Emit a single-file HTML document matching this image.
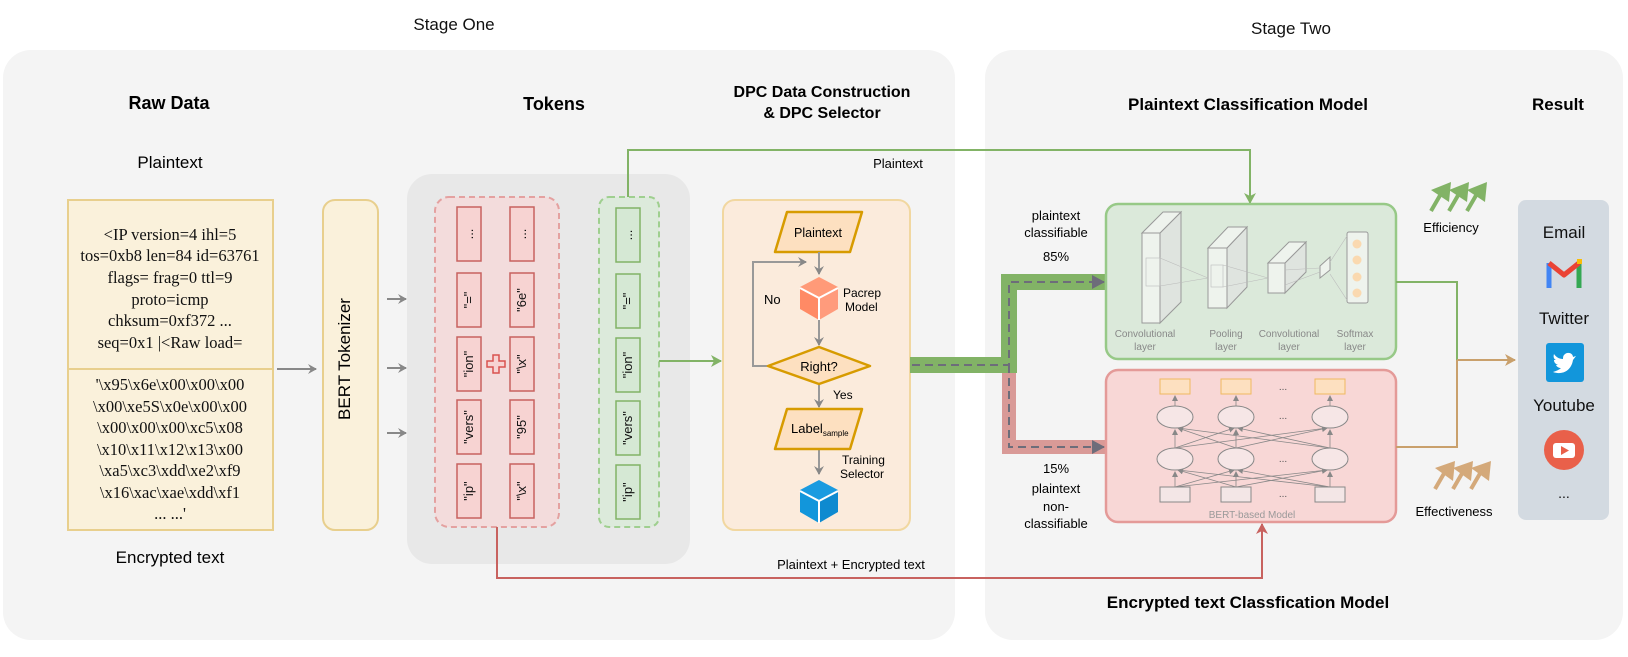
<!DOCTYPE html>
<html><head><meta charset="utf-8"><style>
html,body{margin:0;padding:0;background:#fff;}
svg{display:block;font-family:"Liberation Sans",sans-serif;}
</style></head><body>
<svg width="1628" height="657" viewBox="0 0 1628 657" xmlns="http://www.w3.org/2000/svg">
<defs>
<marker id="ag" markerWidth="10" markerHeight="10" refX="8" refY="5" orient="auto" markerUnits="userSpaceOnUse"><path d="M0,0 L9,5 L0,10 L3,5 z" fill="#888"/></marker>
<marker id="agr" markerWidth="12" markerHeight="12" refX="10" refY="6" orient="auto" markerUnits="userSpaceOnUse"><path d="M0,0 L11,6 L0,12 L3,6 z" fill="#82b366"/></marker>
<marker id="ard" markerWidth="12" markerHeight="12" refX="10" refY="6" orient="auto" markerUnits="userSpaceOnUse"><path d="M0,0 L11,6 L0,12 L3,6 z" fill="#c8625f"/></marker>
<marker id="abr" markerWidth="12" markerHeight="12" refX="10" refY="6" orient="auto" markerUnits="userSpaceOnUse"><path d="M0,0 L11,6 L0,12 L3,6 z" fill="#c9a06c"/></marker>
<marker id="adk" markerWidth="14" markerHeight="14" refX="12" refY="7" orient="auto" markerUnits="userSpaceOnUse"><path d="M0,0 L13,7 L0,14 z" fill="#6d6d7a"/></marker>
<marker id="asm" markerWidth="6" markerHeight="6" refX="5" refY="3" orient="auto" markerUnits="userSpaceOnUse"><path d="M0,0 L6,3 L0,6 z" fill="#888"/></marker>
</defs>

<!-- stage panels -->
<text x="454" y="30" font-size="17" text-anchor="middle" fill="#111">Stage One</text>
<text x="1291" y="34" font-size="17" text-anchor="middle" fill="#111">Stage Two</text>
<rect x="3" y="50" width="952" height="590" rx="28" fill="#f4f4f4"/>
<rect x="985" y="50" width="638" height="590" rx="28" fill="#f4f4f4"/>

<!-- Raw data -->
<text x="169" y="109" font-size="18" font-weight="bold" text-anchor="middle">Raw Data</text>
<text x="170" y="168" font-size="17" text-anchor="middle">Plaintext</text>
<rect x="68" y="200" width="205" height="330" fill="#faf1db" stroke="#e8cf8d" stroke-width="2"/>
<line x1="68" y1="369" x2="273" y2="369" stroke="#e8cf8d" stroke-width="2"/>
<g font-family="Liberation Serif, serif" font-size="16.5" text-anchor="middle" fill="#111">
<text x="170" y="240">&lt;IP  version=4 ihl=5</text>
<text x="170" y="261">tos=0xb8 len=84 id=63761</text>
<text x="170" y="283">flags= frag=0 ttl=9</text>
<text x="170" y="305">proto=icmp</text>
<text x="170" y="326">chksum=0xf372 ...</text>
<text x="170" y="348">seq=0x1 |&lt;Raw  load=</text>
<text x="170" y="390">'\x95\x6e\x00\x00\x00</text>
<text x="170" y="412">\x00\xe5S\x0e\x00\x00</text>
<text x="170" y="433">\x00\x00\x00\xc5\x08</text>
<text x="170" y="455">\x10\x11\x12\x13\x00</text>
<text x="170" y="476">\xa5\xc3\xdd\xe2\xf9</text>
<text x="170" y="498">\x16\xac\xae\xdd\xf1</text>
<text x="170" y="519">... ...'</text>
</g>
<text x="170" y="563" font-size="17" text-anchor="middle">Encrypted text</text>
<line x1="277" y1="369" x2="316" y2="369" stroke="#888" stroke-width="2" marker-end="url(#ag)"/>

<!-- BERT tokenizer -->
<rect x="323" y="200" width="55" height="330" rx="12" fill="#faf1db" stroke="#e8cf8d" stroke-width="2"/>
<text x="356" y="365" font-size="17" text-anchor="middle" transform="rotate(-90 350 365)">BERT Tokenizer</text>
<g stroke="#888" stroke-width="2">
<line x1="387" y1="299" x2="406" y2="299" marker-end="url(#ag)"/>
<line x1="387" y1="368" x2="406" y2="368" marker-end="url(#ag)"/>
<line x1="387" y1="433" x2="406" y2="433" marker-end="url(#ag)"/>
</g>

<!-- tokens -->
<text x="554" y="110" font-size="18" font-weight="bold" text-anchor="middle">Tokens</text>
<rect x="407" y="174" width="283" height="390" rx="25" fill="#e8e8e8"/>
<rect x="435" y="197" width="124" height="330" rx="14" fill="#f3dcdc" stroke="#e4a1a0" stroke-width="2" stroke-dasharray="6,4"/>
<rect x="599" y="197" width="60" height="330" rx="10" fill="#dceadb" stroke="#9fcf8f" stroke-width="2" stroke-dasharray="6,4"/>
<g fill="#f7d3d2" stroke="#c8625f" stroke-width="1.5">
<rect x="457" y="207" width="24" height="54"/><rect x="510" y="207" width="24" height="54"/>
<rect x="457" y="273" width="24" height="54"/><rect x="510" y="273" width="24" height="54"/>
<rect x="457" y="337" width="24" height="54"/><rect x="510" y="337" width="24" height="54"/>
<rect x="457" y="400" width="24" height="54"/><rect x="510" y="400" width="24" height="54"/>
<rect x="457" y="464" width="24" height="54"/><rect x="510" y="464" width="24" height="54"/>
</g>
<g fill="#d5e8d4" stroke="#82b366" stroke-width="1.5">
<rect x="616" y="208" width="24" height="54"/>
<rect x="616" y="274" width="24" height="54"/>
<rect x="616" y="338" width="24" height="54"/>
<rect x="616" y="401" width="24" height="54"/>
<rect x="616" y="465" width="24" height="54"/>
</g>
<g font-size="13" text-anchor="middle" fill="#111">
<text x="469" y="238" transform="rotate(-90 469 234)">...</text>
<text x="522" y="238" transform="rotate(-90 522 234)">...</text>
<text x="628" y="239" transform="rotate(-90 628 235)">...</text>
<text x="469" y="304" transform="rotate(-90 469 300)">"="</text>
<text x="522" y="304" transform="rotate(-90 522 300)">"6e"</text>
<text x="628" y="305" transform="rotate(-90 628 301)">"="</text>
<text x="469" y="368" transform="rotate(-90 469 364)">"ion"</text>
<text x="522" y="368" transform="rotate(-90 522 364)">"\x"</text>
<text x="628" y="369" transform="rotate(-90 628 365)">"ion"</text>
<text x="469" y="431" transform="rotate(-90 469 427)">"vers"</text>
<text x="522" y="431" transform="rotate(-90 522 427)">"95"</text>
<text x="628" y="432" transform="rotate(-90 628 428)">"vers"</text>
<text x="469" y="495" transform="rotate(-90 469 491)">"ip"</text>
<text x="522" y="495" transform="rotate(-90 522 491)">"\x"</text>
<text x="628" y="496" transform="rotate(-90 628 492)">"ip"</text>
</g>
<path d="M493,355 h6 v6 h6 v6 h-6 v6 h-6 v-6 h-6 v-6 h6 z" fill="#f7d3d2" stroke="#d9534f" stroke-width="1.5"/>

<!-- connectors from tokens -->
<polyline points="628,197 628,150 1250,150 1250,203" fill="none" stroke="#82b366" stroke-width="2" marker-end="url(#agr)"/>
<text x="898" y="168" font-size="13" text-anchor="middle">Plaintext</text>
<line x1="659" y1="361" x2="721" y2="361" stroke="#82b366" stroke-width="2" marker-end="url(#agr)"/>
<polyline points="497,527 497,578 1262,578 1262,524" fill="none" stroke="#c8625f" stroke-width="2" marker-end="url(#ard)"/>
<text x="851" y="569" font-size="13" text-anchor="middle">Plaintext + Encrypted text</text>

<!-- DPC -->
<text x="822" y="97" font-size="16" font-weight="bold" text-anchor="middle">DPC Data Construction</text>
<text x="822" y="118" font-size="16" font-weight="bold" text-anchor="middle">&amp; DPC Selector</text>
<rect x="723" y="200" width="187" height="330" rx="12" fill="#fbebdc" stroke="#f1d7a0" stroke-width="2"/>
<polygon points="787,212 862,212 850,252 775,252" fill="#fde0c0" stroke="#d79b00" stroke-width="2.5" stroke-linejoin="round"/>
<text x="818" y="237" font-size="12.5" text-anchor="middle">Plaintext</text>
<g stroke="#999" stroke-width="2" fill="none">
<line x1="819" y1="252" x2="819" y2="274" marker-end="url(#ag)"/>
<line x1="819" y1="320" x2="819" y2="345" marker-end="url(#ag)"/>
<line x1="819" y1="384" x2="819" y2="407" marker-end="url(#ag)"/>
<line x1="819" y1="450" x2="819" y2="474" marker-end="url(#ag)"/>
<polyline points="768,366 753,366 753,262 806,262" marker-end="url(#ag)"/>
</g>
<!-- orange cube -->
<g>
<polygon points="819,277 838,287 819,297 800,287" fill="#ff9a78"/>
<polygon points="800,287 819,297 819,320 800,309" fill="#ff8a65"/>
<polygon points="838,287 819,297 819,320 838,309" fill="#ff9b7c"/>
<polyline points="800,288 819,298 838,288" fill="none" stroke="#fff" stroke-width="2"/>
<line x1="819" y1="298" x2="819" y2="320" stroke="#fff" stroke-width="2"/>
</g>
<text x="843" y="297" font-size="12">Pacrep</text>
<text x="845" y="311" font-size="12">Model</text>
<text x="764" y="304" font-size="13">No</text>
<polygon points="819,347 870,366 819,384 768,366" fill="#fde0c0" stroke="#d79b00" stroke-width="2.5" stroke-linejoin="round"/>
<text x="819" y="371" font-size="13" text-anchor="middle">Right?</text>
<text x="833" y="399" font-size="12">Yes</text>
<polygon points="787,409 862,409 850,449 775,449" fill="#fde0c0" stroke="#d79b00" stroke-width="2.5" stroke-linejoin="round"/>
<text x="791" y="433" font-size="13">Label<tspan font-size="8" dy="3">sample</tspan></text>
<text x="842" y="464" font-size="12">Training</text>
<text x="840" y="478" font-size="12">Selector</text>
<!-- blue cube -->
<g>
<polygon points="819,480 838,490 819,500 800,490" fill="#1a9be0"/>
<polygon points="800,490 819,500 819,523 800,512" fill="#1296db"/>
<polygon points="838,490 819,500 819,523 838,512" fill="#0e8ad0"/>
<polyline points="800,491 819,501 838,491" fill="none" stroke="#fff" stroke-width="2"/>
<line x1="819" y1="501" x2="819" y2="523" stroke="#fff" stroke-width="2"/>
</g>

<!-- thick paths -->
<polyline points="910,365 1009,365 1009,447 1106,447" fill="none" stroke="#d99a97" stroke-width="14"/>
<polyline points="910,365 1009,365 1009,282 1106,282" fill="none" stroke="#82b366" stroke-width="16"/>
<polyline points="912,365 1009,365 1009,282 1104,282" fill="none" stroke="#6d6d7a" stroke-width="2" stroke-dasharray="8,5" marker-end="url(#adk)"/>
<polyline points="1009,365 1009,447 1104,447" fill="none" stroke="#6d6d7a" stroke-width="2" stroke-dasharray="8,5" marker-end="url(#adk)"/>
<g font-size="13" text-anchor="middle">
<text x="1056" y="220">plaintext</text>
<text x="1056" y="237">classifiable</text>
<text x="1056" y="261">85%</text>
<text x="1056" y="473">15%</text>
<text x="1056" y="493">plaintext</text>
<text x="1056" y="511">non-</text>
<text x="1056" y="528">classifiable</text>
</g>

<!-- Stage two titles -->
<text x="1248" y="110" font-size="17" font-weight="bold" text-anchor="middle">Plaintext Classification Model</text>
<text x="1558" y="110" font-size="17" font-weight="bold" text-anchor="middle">Result</text>
<text x="1248" y="608" font-size="17" font-weight="bold" text-anchor="middle">Encrypted text Classfication Model</text>

<!-- CNN box -->
<rect x="1106" y="204" width="290" height="155" rx="12" fill="#dbe9da" stroke="#97c987" stroke-width="2.5"/>
<g fill="#eef3ed" stroke="#999" stroke-width="1">
<polygon points="1160,233 1181,212 1181,302 1160,323" fill="#dfe4df"/>
<polygon points="1142,233 1160,233 1181,212 1163,212"/>
<rect x="1142" y="233" width="18" height="90"/>
<polygon points="1227,248 1247,227 1247,287 1227,308" fill="#dfe4df"/>
<polygon points="1208,248 1227,248 1247,227 1228,227"/>
<rect x="1208" y="248" width="19" height="60"/>
<polygon points="1285,263 1306,242 1306,272 1285,293" fill="#dfe4df"/>
<polygon points="1268,263 1285,263 1306,242 1289,242"/>
<rect x="1268" y="263" width="17" height="30"/>
<polygon points="1320,266 1330,257 1330,270 1320,278"/>
<rect x="1347" y="232" width="21" height="71" rx="2"/>
</g>
<g stroke="#bbb" stroke-width="0.6" fill="none">
<rect x="1146" y="258" width="14" height="28"/>
<line x1="1160" y1="258" x2="1208" y2="278"/><line x1="1160" y1="286" x2="1208" y2="278"/>
<rect x="1211" y="265" width="12" height="22"/>
<line x1="1223" y1="265" x2="1268" y2="278"/><line x1="1223" y1="287" x2="1268" y2="278"/>
<line x1="1285" y1="270" x2="1320" y2="268"/><line x1="1285" y1="285" x2="1320" y2="272"/>
<line x1="1330" y1="262" x2="1347" y2="236"/><line x1="1330" y1="274" x2="1347" y2="300"/>
</g>
<g fill="#fad9b0"><circle cx="1357" cy="244" r="4.5"/><circle cx="1357" cy="260" r="4.5"/><circle cx="1357" cy="277" r="4.5"/><circle cx="1357" cy="293" r="4.5"/></g>
<g font-size="10" fill="#888" text-anchor="middle">
<text x="1145" y="337">Convolutional</text><text x="1145" y="350">layer</text>
<text x="1226" y="337">Pooling</text><text x="1226" y="350">layer</text>
<text x="1289" y="337">Convolutional</text><text x="1289" y="350">layer</text>
<text x="1355" y="337">Softmax</text><text x="1355" y="350">layer</text>
</g>

<!-- BERT box -->
<rect x="1106" y="370" width="290" height="152" rx="12" fill="#f8d7d6" stroke="#e49a98" stroke-width="2.5"/>
<g fill="#fde0c0" stroke="#f0b960" stroke-width="1">
<rect x="1160" y="379" width="30" height="15"/><rect x="1221" y="379" width="30" height="15"/><rect x="1315" y="379" width="30" height="15"/>
</g>
<g stroke="#888" stroke-width="0.8" fill="none">
<line x1="1175" y1="406" x2="1175" y2="396" marker-end="url(#asm)"/>
<line x1="1236" y1="406" x2="1236" y2="396" marker-end="url(#asm)"/>
<line x1="1330" y1="406" x2="1330" y2="396" marker-end="url(#asm)"/>
<line x1="1175" y1="448" x2="1175" y2="430" marker-end="url(#asm)"/>
<line x1="1236" y1="448" x2="1236" y2="430" marker-end="url(#asm)"/>
<line x1="1330" y1="448" x2="1330" y2="430" marker-end="url(#asm)"/>
<line x1="1175" y1="448" x2="1234" y2="428" marker-end="url(#asm)"/>
<line x1="1175" y1="448" x2="1327" y2="428" marker-end="url(#asm)"/>
<line x1="1236" y1="448" x2="1178" y2="428" marker-end="url(#asm)"/>
<line x1="1236" y1="448" x2="1327" y2="428" marker-end="url(#asm)"/>
<line x1="1330" y1="448" x2="1178" y2="428" marker-end="url(#asm)"/>
<line x1="1330" y1="448" x2="1238" y2="428" marker-end="url(#asm)"/>
<line x1="1175" y1="487" x2="1175" y2="472" marker-end="url(#asm)"/>
<line x1="1236" y1="487" x2="1236" y2="472" marker-end="url(#asm)"/>
<line x1="1330" y1="487" x2="1330" y2="472" marker-end="url(#asm)"/>
<line x1="1175" y1="487" x2="1234" y2="470" marker-end="url(#asm)"/>
<line x1="1175" y1="487" x2="1327" y2="470" marker-end="url(#asm)"/>
<line x1="1236" y1="487" x2="1178" y2="470" marker-end="url(#asm)"/>
<line x1="1236" y1="487" x2="1327" y2="470" marker-end="url(#asm)"/>
<line x1="1330" y1="487" x2="1178" y2="470" marker-end="url(#asm)"/>
<line x1="1330" y1="487" x2="1238" y2="470" marker-end="url(#asm)"/>
</g>
<g fill="#f6e6e6" stroke="#888" stroke-width="1">
<ellipse cx="1175" cy="417" rx="18" ry="11"/><ellipse cx="1236" cy="417" rx="18" ry="11"/><ellipse cx="1330" cy="417" rx="18" ry="11"/>
<ellipse cx="1175" cy="459" rx="18" ry="11"/><ellipse cx="1236" cy="459" rx="18" ry="11"/><ellipse cx="1330" cy="459" rx="18" ry="11"/>
<rect x="1160" y="487" width="30" height="15" fill="#f3e6e6"/><rect x="1221" y="487" width="30" height="15" fill="#f3e6e6"/><rect x="1315" y="487" width="30" height="15" fill="#f3e6e6"/>
</g>
<g font-size="10" fill="#555" text-anchor="middle">
<text x="1283" y="390">...</text><text x="1283" y="419">...</text><text x="1283" y="462">...</text><text x="1283" y="497">...</text>
</g>
<text x="1252" y="518" font-size="10" fill="#999" text-anchor="middle">BERT-based Model</text>

<!-- outputs -->
<polyline points="1396,282 1457,282 1457,360" fill="none" stroke="#82b366" stroke-width="2"/>
<polyline points="1396,447 1457,447 1457,360" fill="none" stroke="#c9a06c" stroke-width="2"/>
<line x1="1457" y1="360" x2="1515" y2="360" stroke="#c9a06c" stroke-width="2" marker-end="url(#abr)"/>

<!-- efficiency arrows -->
<g fill="#82b366" stroke="#82b366">
<line x1="1431" y1="211" x2="1442" y2="192" stroke-width="4"/><polygon points="1431,190 1451,182 1449,202" stroke="none"/>
<line x1="1449" y1="211" x2="1460" y2="192" stroke-width="4"/><polygon points="1449,190 1469,182 1467,202" stroke="none"/>
<line x1="1467" y1="211" x2="1478" y2="192" stroke-width="4"/><polygon points="1467,190 1487,182 1485,202" stroke="none"/>
</g>
<text x="1451" y="232" font-size="13" text-anchor="middle">Efficiency</text>
<g fill="#d4a97a" stroke="#d4a97a">
<line x1="1435" y1="489" x2="1446" y2="470" stroke-width="4"/><polygon points="1435,468 1455,461 1453,481" stroke="none"/>
<line x1="1453" y1="489" x2="1464" y2="470" stroke-width="4"/><polygon points="1453,468 1473,461 1471,481" stroke="none"/>
<line x1="1471" y1="489" x2="1482" y2="470" stroke-width="4"/><polygon points="1471,468 1491,461 1489,481" stroke="none"/>
</g>
<text x="1454" y="516" font-size="13" text-anchor="middle">Effectiveness</text>

<!-- result panel -->
<rect x="1518" y="200" width="91" height="320" rx="8" fill="#d3dae1"/>
<g font-size="17" text-anchor="middle" fill="#111">
<text x="1564" y="238">Email</text>
<text x="1564" y="324">Twitter</text>
<text x="1564" y="411">Youtube</text>
<text x="1564" y="498" font-size="14">...</text>
</g>
<!-- gmail -->
<g fill="none" stroke-width="5" stroke-linejoin="round">
<line x1="1549" y1="263" x2="1549" y2="288" stroke="#4285f4"/>
<line x1="1579" y1="263" x2="1579" y2="288" stroke="#34a853"/>
<polyline points="1549,263 1564,275 1579,263" stroke="#ea4335"/>
</g>
<rect x="1577" y="259" width="5" height="5" fill="#fbbc05"/>
<!-- twitter -->
<rect x="1546" y="343" width="38" height="39" rx="3" fill="#1296db"/>
<path d="M1553,372 c8,3 18,0 20,-12 l3,-4 -3,1 c0,-4 -6,-6 -9,-2 c-1,1 -1,3 -1,4 c-4,0 -7,-2 -9,-5 c-1,3 0,5 2,6 l-2,0 c0,3 2,4 4,5 l-2,0 c1,2 3,3 5,3 c-2,2 -5,3 -8,4 z" fill="#fff"/>
<!-- youtube -->
<circle cx="1564" cy="450" r="20" fill="#e9604a"/>
<rect x="1553" y="443" width="22" height="15" rx="3" fill="#fff"/>
<polygon points="1561,446 1569,450.5 1561,455" fill="#e9604a"/>
</svg>
</body></html>
